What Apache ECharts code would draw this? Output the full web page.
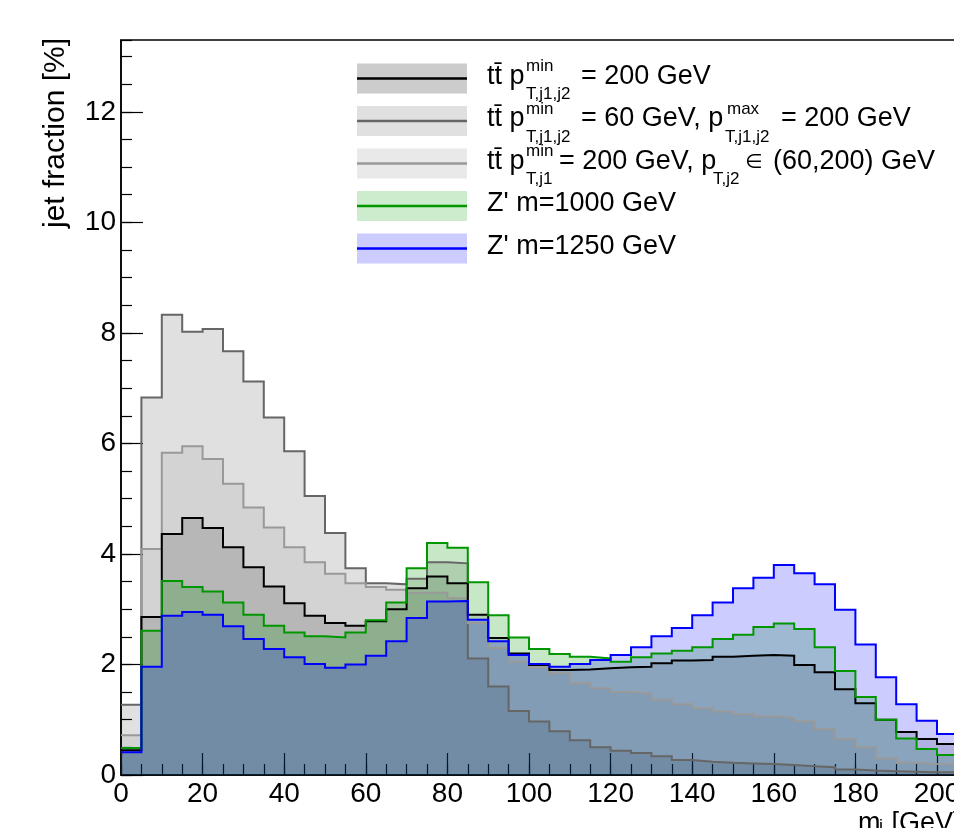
<!DOCTYPE html>
<html><head><meta charset="utf-8">
<script src="https://cdn.jsdelivr.net/npm/echarts@6/dist/echarts.min.js"></script>
<style>html,body{margin:0;padding:0;background:#fff}#c{width:954px;height:828px}</style>
</head><body><div id="c"></div>
<script>
// bin left edges (GeV), bin width 5 GeV
const binEdges = [0,5,10,15,20,25,30,35,40,45,50,55,60,65,70,75,80,85,90,95,100,105,110,115,120,125,130,135,140,145,150,155,160,165,170,175,180,185,190,195,200];
const lastEdge = 205;
// tt pT^min_{T,j1,j2} = 200 GeV (black)
const ttMin200 = [0.45,2.86,4.36,4.65,4.47,4.12,3.76,3.41,3.11,2.88,2.75,2.70,2.78,3.00,3.38,3.59,3.47,2.90,2.48,2.20,1.99,1.90,1.91,1.93,1.95,1.96,2.02,2.07,2.08,2.14,2.16,2.17,2.16,1.99,1.86,1.55,1.30,1.00,0.78,0.65,0.56];
// tt pT^min = 60, pT^max = 200 GeV (dark grey)
const ttMin60Max200 = [1.27,6.83,8.33,8.02,8.07,7.67,7.12,6.47,5.86,5.05,4.38,3.74,3.47,3.45,3.55,3.85,3.83,2.11,1.60,1.16,0.97,0.79,0.63,0.50,0.44,0.40,0.34,0.27,0.24,0.22,0.21,0.20,0.18,0.16,0.14,0.10,0.08,0.07,0.06,0.05,0.05];
// tt pT,j1^min = 200, pT,j2 in (60,200) (light grey)
const ttMixed = [0.72,4.09,5.83,5.95,5.72,5.27,4.84,4.48,4.12,3.85,3.64,3.47,3.40,3.35,3.30,3.30,3.20,2.75,2.30,2.05,1.95,1.84,1.66,1.57,1.50,1.47,1.36,1.28,1.21,1.15,1.10,1.06,1.03,0.97,0.83,0.65,0.50,0.30,0.22,0.20,0.19];
// Z' m=1000 GeV (green)
const zp1000 = [0.49,2.61,3.51,3.40,3.32,3.12,2.90,2.70,2.58,2.51,2.49,2.58,2.80,3.12,3.74,4.20,4.11,3.49,2.89,2.49,2.28,2.19,2.14,2.11,2.05,2.13,2.20,2.25,2.31,2.46,2.54,2.68,2.74,2.64,2.31,1.88,1.41,1.00,0.66,0.47,0.36];
// Z' m=1250 GeV (blue)
const zp1250 = [0.41,1.96,2.88,2.95,2.90,2.69,2.46,2.28,2.13,2.01,1.94,2.00,2.16,2.42,2.84,3.14,3.15,2.81,2.42,2.17,2.01,1.96,2.01,2.08,2.17,2.31,2.51,2.66,2.89,3.12,3.38,3.57,3.80,3.65,3.45,2.99,2.36,1.77,1.28,0.98,0.74];

const legendLabels = [
  [{t:'tt\u0304 p',x:487,k:'m'},{t:'min',x:526,k:'sup'},{t:'T,j1,j2',x:526,k:'sub'},{t:'= 200 GeV',x:581,k:'m'}],
  [{t:'tt\u0304 p',x:487,k:'m'},{t:'min',x:526,k:'sup'},{t:'T,j1,j2',x:526,k:'sub'},{t:'= 60 GeV, p',x:581,k:'m'},{t:'max',x:727,k:'sup'},{t:'T,j1,j2',x:725,k:'sub'},{t:'= 200 GeV',x:781,k:'m'}],
  [{t:'tt\u0304 p',x:487,k:'m'},{t:'min',x:526,k:'sup'},{t:'T,j1',x:526,k:'sub'},{t:'= 200 GeV, p',x:559,k:'m'},{t:'T,j2',x:713,k:'sub'},{t:'\u2208',x:745,k:'sym'},{t:'(60,200) GeV',x:773,k:'m'}],
  [{t:"Z' m=1000 GeV",x:487,k:'m'}],
  [{t:"Z' m=1250 GeV",x:487,k:'m'}]
];

const FONT = 'Liberation Sans, Arial, Helvetica, sans-serif';
const X0 = 121, PXPERGEV = 4.08, Y0 = 775, YMAX = 13.3, PLOTTOP = 40;

const hist = [
  {vals: ttMin60Max200, line:'#666666', fill:'rgba(0,0,0,0.12)'},
  {vals: ttMixed, line:'#999999', fill:'rgba(0,0,0,0.055)'},
  {vals: ttMin200, line:'#000000', fill:'rgba(0,0,0,0.13)'},
  {vals: zp1000, line:'#009600', fill:'rgba(0,150,0,0.22)'},
  {vals: zp1250, line:'#0000ff', fill:'rgba(0,0,255,0.2)'}
];
const legendStyles = [
  {line:'#000000', box:'#cccccc'},
  {line:'#666666', box:'#e0e0e0'},
  {line:'#999999', box:'#e9e9e9'},
  {line:'#009600', box:'#cdeccd'},
  {line:'#0000ff', box:'#ccccff'}
];

function stepData(vals){
  const d = binEdges.map((x,i)=>[x, vals[i]]);
  d.push([lastEdge, vals[vals.length-1]]);
  return d;
}

const graphics = [];
const rowY = [78.5, 121, 163.5, 206, 248.5];
legendStyles.forEach((s,i)=>{
  const cy = rowY[i];
  graphics.push({type:'rect', shape:{x:357,y:cy-15,width:110,height:30}, style:{fill:s.box}, silent:true});
  graphics.push({type:'line', shape:{x1:357,y1:cy,x2:467,y2:cy}, style:{stroke:s.line,lineWidth:2.5}, silent:true});
  legendLabels[i].forEach(p=>{
    let fs = 27, y = cy-2, fam = FONT;
    if (p.k==='sup'){ fs = 17; y = cy-12; }
    if (p.k==='sub'){ fs = 17; y = cy+16; }
    if (p.k==='sym'){ fs = 20; y = cy-1; fam = 'DejaVu Sans, sans-serif'; }
    graphics.push({type:'text', x:p.x, y:y, silent:true,
      style:{text:p.t, fill:'#000', font: fs+'px '+fam, textAlign:'left', textVerticalAlign:'middle'}});
  });
});
// axis titles
graphics.push({type:'text', x:56, y:228, rotation:Math.PI/2, silent:true,
  style:{text:'jet fraction [%]', fill:'#000', font:'30px '+FONT, textAlign:'left', textVerticalAlign:'middle'}});
graphics.push({type:'text', x:858, y:810, silent:true,
  style:{text:'m', fill:'#000', font:'27px '+FONT, textAlign:'left', textVerticalAlign:'top'}});
graphics.push({type:'text', x:879, y:818, silent:true,
  style:{text:'j', fill:'#000', font:'18px '+FONT, textAlign:'left', textVerticalAlign:'top'}});
graphics.push({type:'text', x:884, y:810, silent:true,
  style:{text:' [GeV]', fill:'#000', font:'27px '+FONT, textAlign:'left', textVerticalAlign:'top'}});

const chart = echarts.init(document.getElementById('c'), null, {renderer:'canvas'});
const gridW = PXPERGEV*lastEdge;
const option = {
  animation:false,
  backgroundColor:'#ffffff',
  grid:{left:X0, top:PLOTTOP, width:gridW, height:Y0-PLOTTOP, show:true, borderColor:'#000', borderWidth:1.5, backgroundColor:'transparent', containLabel:false, outerBoundsMode:'none'},
  xAxis:[
    {type:'value', min:0, max:lastEdge, interval:20, position:'bottom',
     axisLine:{show:true, onZero:false, lineStyle:{color:'#000', width:1.5}},
     axisTick:{show:true, inside:true, length:22, lineStyle:{color:'#000', width:1.2}},
     minorTick:{show:false},
     splitLine:{show:false},
     axisLabel:{show:true, margin:5, fontSize:28, color:'#000', fontFamily:FONT, showMaxLabel:false}},
    {type:'value', min:0, max:lastEdge, interval:5, position:'bottom',
     axisLine:{show:false, onZero:false},
     axisTick:{show:true, inside:true, length:11, lineStyle:{color:'#000', width:1.2}},
     splitLine:{show:false}, axisLabel:{show:false}}
  ],
  yAxis:[
    {type:'value', min:0, max:YMAX, interval:2, position:'left',
     axisLine:{show:true, onZero:false, lineStyle:{color:'#000', width:1.5}},
     axisTick:{show:true, inside:true, length:22, lineStyle:{color:'#000', width:1.2}},
     splitLine:{show:false},
     axisLabel:{show:true, margin:5, fontSize:28, color:'#000', fontFamily:FONT, showMaxLabel:false}},
    {type:'value', min:0, max:YMAX, interval:0.5, position:'left',
     axisLine:{show:false, onZero:false},
     axisTick:{show:true, inside:true, length:11, lineStyle:{color:'#000', width:1.2}},
     splitLine:{show:false}, axisLabel:{show:false}}
  ],
  series: hist.map(h=>({
    type:'line', step:'end', data: stepData(h.vals), symbol:'none', silent:true,
    xAxisIndex:0, yAxisIndex:0, z:1,
    lineStyle:{color:h.line, width:2, join:'miter', cap:'butt'},
    areaStyle:{color:h.fill, opacity:1}
  })),
  graphic: graphics
};
chart.setOption(option);
</script>
</body></html>
